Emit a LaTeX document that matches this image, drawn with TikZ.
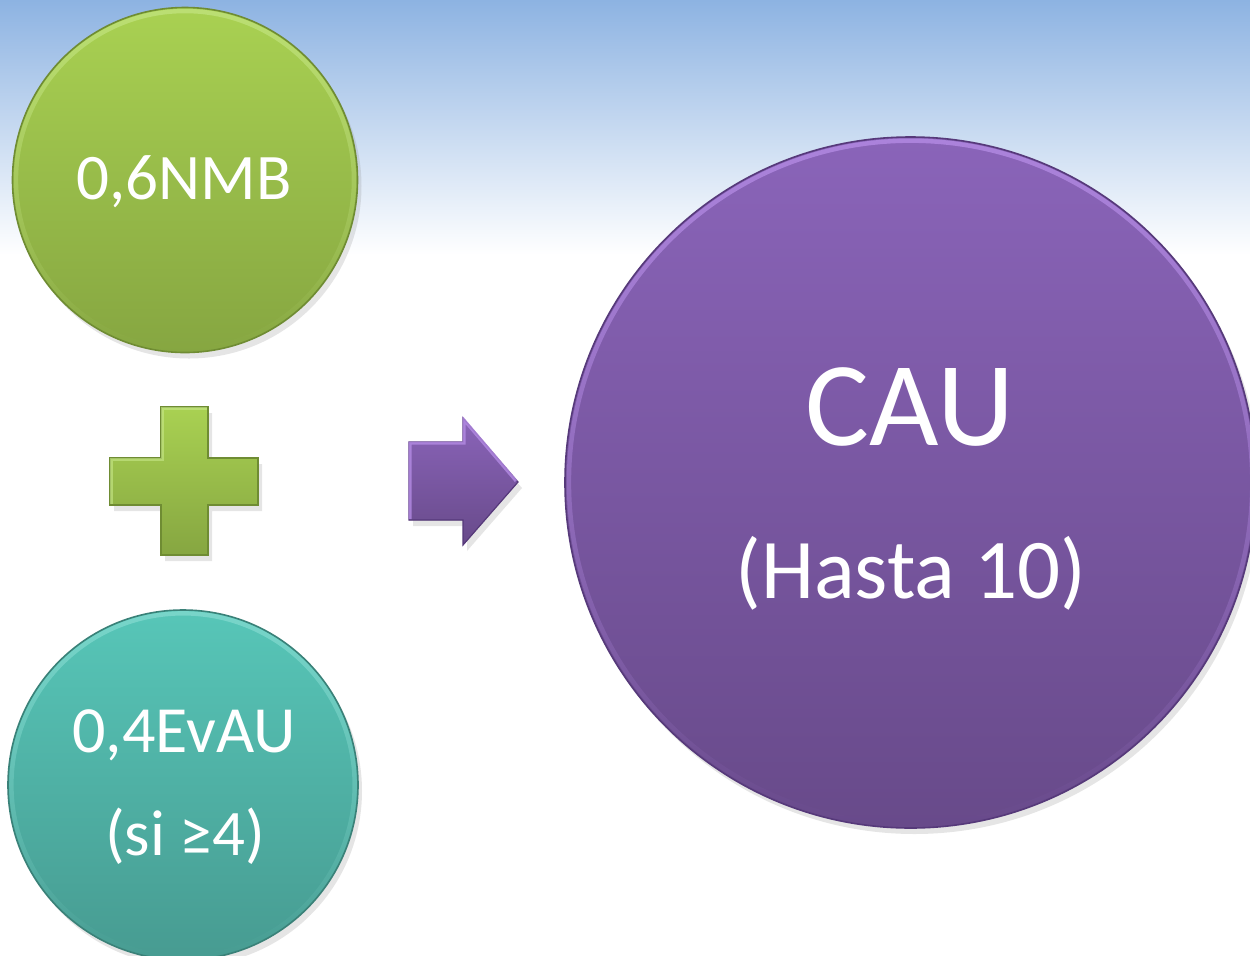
\documentclass[tikz,border=0pt]{standalone}
\usepackage{fontspec}
\setmainfont{Carlito}
\usetikzlibrary{shadows,fadings}
\definecolor{skyblue}{HTML}{8DB3E2}
\definecolor{grtop}{HTML}{A9D152}
\definecolor{grbot}{HTML}{86A641}
\definecolor{grrim}{HTML}{6F8C33}
\definecolor{grlight}{HTML}{C8E88A}
\definecolor{tltop}{HTML}{57C6B8}
\definecolor{tlbot}{HTML}{479B91}
\definecolor{tlrim}{HTML}{3A8178}
\definecolor{tllight}{HTML}{8FE0D6}
\definecolor{pptop}{HTML}{8A64B9}
\definecolor{ppbot}{HTML}{684A8A}
\definecolor{pprim}{HTML}{56397A}
\definecolor{pplight}{HTML}{B48BE4}
\tikzset{
  bubble/.style={circle, inner sep=0pt, draw, line width=0.8pt,
    drop shadow={opacity=0.2, shadow xshift=2pt, shadow yshift=-3pt}},
  rimlight/.style={line width=2.2pt, path fading=south},
  label/.style={text=white, anchor=base, inner sep=0pt},
}
\begin{document}
\begin{tikzpicture}[x=0.5pt, y=-0.5pt]
\useasboundingbox (0,0) rectangle (1250,955);
\clip (0,0) rectangle (1250,955);
\fill[white] (0,0) rectangle (1250,955);
\shade[top color=skyblue, bottom color=white] (0,0) rectangle (1250,255);

% circles
\node[bubble, minimum size=172.5pt, top color=grtop, bottom color=grbot, draw=grrim] (nmb) at (185,180) {};
\draw[grlight, rimlight, opacity=0.6] (nmb.center) circle (84.5pt);
\node[bubble, minimum size=175pt, top color=tltop, bottom color=tlbot, draw=tlrim] (evau) at (183,785) {};
\draw[tllight, rimlight, opacity=0.6] (evau.center) circle (85.8pt);
\node[bubble, minimum size=345.5pt, top color=pptop, bottom color=ppbot, draw=pprim] (cau) at (910.5,482.5) {};
\draw[pplight, rimlight, opacity=0.8] (cau.center) circle (170.8pt);

% plus sign
\filldraw[top color=grtop, bottom color=grbot, draw=grrim, line width=0.6pt,
  drop shadow={opacity=0.2, shadow xshift=2pt, shadow yshift=-3pt}]
  (161,407) -- (208,407) -- (208,458) -- (258,458) -- (258,505) -- (208,505)
  -- (208,555) -- (161,555) -- (161,505) -- (110,505) -- (110,458) -- (161,458) -- cycle;
\draw[grlight, opacity=0.6, line width=1.5pt] (111,504) -- (111,459) -- (162,459) -- (162,408) -- (207,408);

% arrow
\filldraw[top color=pptop, bottom color=ppbot, draw=pprim, line width=0.6pt,
  drop shadow={opacity=0.2, shadow xshift=2pt, shadow yshift=-3pt}]
  (409,442) -- (463,442) -- (463,418) -- (518,482) -- (463,545) -- (463,520) -- (409,520) -- cycle;
\draw[pplight, opacity=0.8, line width=1.5pt] (410,519) -- (410,443) -- (464,443) -- (464,420) -- (516,481);

% texts
\node[label, font=\fontsize{32.5pt}{38pt}\selectfont] (t1) at (184,199) {0,6NMB};
\node[label, font=\fontsize{33pt}{38pt}\selectfont] (t2) at (184,752) {0,4EvAU};
\node[label, font=\fontsize{32.5pt}{38pt}\selectfont] (t3) at (185,855) {(si ≥4)};
\node[label, font=\fontsize{60pt}{70pt}\selectfont] (t4) at (910,445) {CAU};
\node[label, font=\fontsize{42.5pt}{48pt}\selectfont] (t5) at (911,598) {(Hasta 10)};
\end{tikzpicture}
\end{document}
